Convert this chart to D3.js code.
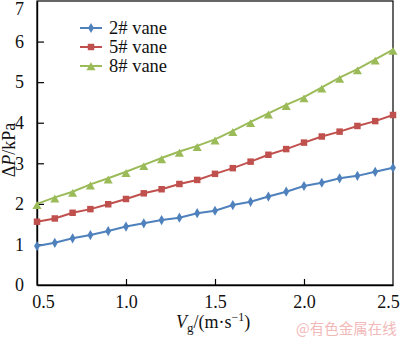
<!DOCTYPE html>
<html>
<head>
<meta charset="utf-8">
<script src="https://cdn.jsdelivr.net/npm/d3@7"></script>
<style>
  html, body { margin: 0; padding: 0; background: #fff; }
  svg { display: block; }
  svg text { font-family: "Liberation Serif", "DejaVu Serif", serif; }
</style>
</head>
<body>
<svg id="chart" width="400" height="337"></svg>
<script>
// ---- data ----
const velocity = [0.5,0.6,0.7,0.8,0.9,1.0,1.1,1.2,1.3,1.4,1.5,1.6,1.7,1.8,1.9,2.0,2.1,2.2,2.3,2.4,2.5];
const vane2 = [0.96,1.04,1.15,1.23,1.33,1.44,1.52,1.60,1.66,1.77,1.83,1.97,2.05,2.18,2.30,2.44,2.52,2.63,2.69,2.79,2.89];
const vane5 = [1.56,1.64,1.78,1.87,1.99,2.12,2.26,2.36,2.49,2.59,2.74,2.88,3.04,3.21,3.35,3.51,3.66,3.78,3.92,4.04,4.19];
const vane8 = [2.00,2.16,2.30,2.48,2.63,2.79,2.96,3.13,3.29,3.43,3.59,3.80,4.02,4.23,4.44,4.63,4.87,5.11,5.32,5.56,5.80];
const seriesNames = ["2# vane", "5# vane", "8# vane"];
const xTicks = [0.5, 1.0, 1.5, 2.0, 2.5];
const yTicks = [0, 1, 2, 3, 4, 5, 6, 7];

const colors = ["#4f81bd", "#c0504d", "#9bbb59"];
const symbols = [d3.symbolDiamond, d3.symbolSquare, d3.symbolTriangle];
const symSizes = [30, 42, 36];
const markerDy = [0, 0, 2.5];

const svg = d3.select("#chart");
const pLeft = 37, pRight = 393, pTop = 1, pBottom = 285;
const x = d3.scaleLinear().domain([0.5, 2.5]).range([pLeft, pRight]);
const y = d3.scaleLinear().domain([0, 7]).range([pBottom, pTop]);

const serif = "Liberation Serif";

// frame
svg.append("rect")
  .attr("x", pLeft).attr("y", pTop)
  .attr("width", pRight - pLeft).attr("height", pBottom - pTop)
  .attr("fill", "none").attr("stroke", "#000").attr("stroke-width", 1.2);

// axes (ticks inside)
const xAxis = d3.axisBottom(x).tickValues(xTicks).tickSizeInner(-6).tickSizeOuter(0)
  .tickFormat(d3.format(".1f")).tickPadding(10);
const gx = svg.append("g").attr("transform", `translate(0,${pBottom})`).call(xAxis);
const yAxis = d3.axisLeft(y).tickValues(yTicks).tickSizeInner(-7).tickSizeOuter(0)
  .tickFormat(d3.format("d")).tickPadding(13);
const gy = svg.append("g").attr("transform", `translate(${pLeft},0)`).call(yAxis);

[gx, gy].forEach(g => {
  g.attr("font-family", serif).attr("font-size", 18);
  g.select(".domain").attr("stroke", "#000").attr("stroke-width", 1.4);
  g.selectAll(".tick line").attr("stroke", "#000").attr("stroke-width", 1.2);
  g.selectAll(".tick text").attr("fill", "#111");
});
// hide tick marks at the ends (frame corners)
gx.selectAll(".tick").filter(d => d === 0.5 || d === 2.5).select("line").remove();
gy.selectAll(".tick").filter(d => d === 0 || d === 7).select("line").remove();
gx.selectAll(".tick").filter(d => d === 0.5).select("text").attr("dx", 6);
gx.selectAll(".tick").filter(d => d === 2.5).select("text").attr("dx", -5);
gy.selectAll(".tick").filter(d => d === 7).select("text").attr("dy", "0.32em").attr("y", 8);

// series
const allSeries = [vane2, vane5, vane8];
const line = d3.line().x((d, i) => x(velocity[i])).y(d => y(d));
allSeries.forEach((vals, s) => {
  const g = svg.append("g");
  g.append("path").datum(vals)
    .attr("d", line).attr("fill", "none")
    .attr("stroke", colors[s]).attr("stroke-width", 2);
  g.selectAll("path.m").data(vals).enter().append("path")
    .attr("class", "m")
    .attr("d", d3.symbol().type(symbols[s]).size(symSizes[s]))
    .attr("transform", (d, i) => `translate(${x(velocity[i])},${y(d) + markerDy[s]})`)
    .attr("fill", colors[s]);
});

// legend
const legRows = [28, 47, 66];
seriesNames.forEach((name, s) => {
  const g = svg.append("g").attr("transform", `translate(0,${legRows[s]})`);
  g.append("line").attr("x1", 80).attr("x2", 102).attr("y1", 0).attr("y2", 0)
    .attr("stroke", colors[s]).attr("stroke-width", 2);
  g.append("path").attr("d", d3.symbol().type(symbols[s]).size(symSizes[s]))
    .attr("transform", `translate(91,${markerDy[s] ? 1.5 : 0})`).attr("fill", colors[s]);
  g.append("text").attr("x", 109).attr("y", 6)
    .attr("font-family", serif).attr("font-size", 18.5).attr("fill", "#111")
    .text(name);
});

// x axis title
const xt = svg.append("text").attr("x", 176).attr("y", 328)
  .attr("font-family", serif).attr("font-size", 18).attr("fill", "#111");
xt.append("tspan").attr("font-style", "italic").text("V");
xt.append("tspan").attr("dy", 4).attr("font-size", 13).text("g");
xt.append("tspan").attr("dy", -4).text("/(m·s");
xt.append("tspan").attr("dy", -7).attr("font-size", 12).text("−1");
xt.append("tspan").attr("dy", 7).text(")");

// y axis title
const yt = svg.append("text")
  .attr("transform", "translate(15,150) rotate(-90)")
  .attr("text-anchor", "middle")
  .attr("font-family", serif).attr("font-size", 18).attr("fill", "#111");
yt.append("tspan").text("Δ");
yt.append("tspan").attr("font-style", "italic").text("P");
yt.append("tspan").text("/kPa");

// watermark
svg.append("text").attr("x", 296).attr("y", 334)
  .style("font-family", "'Noto Sans CJK SC', sans-serif")
  .attr("font-size", 14.5)
  .attr("fill", "#f2b9b9").text("@有色金属在线");
</script>
</body>
</html>
